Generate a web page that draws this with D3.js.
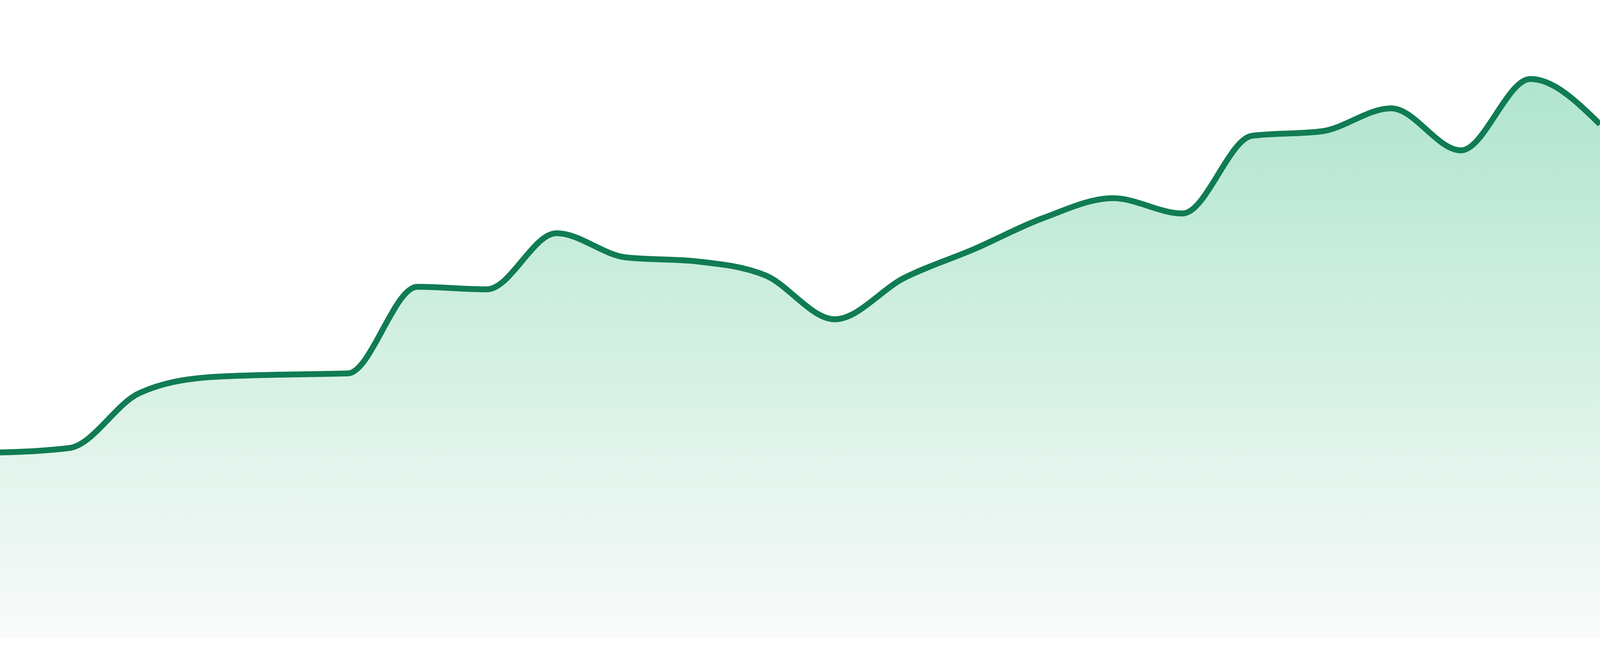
<!DOCTYPE html>
<html>
<head>
<meta charset="utf-8">
<script src="https://cdn.jsdelivr.net/npm/d3@7"></script>
<style>
  html, body { margin: 0; padding: 0; background: #ffffff; width: 100%; height: 100%; overflow: hidden; }
  svg { display: block; }
</style>
</head>
<body>
<svg id="canvas"></svg>
<script>
// values, one per step, evenly spaced
let values = [29.0, 29.7, 38.3, 40.8, 41.2, 41.4, 55.0, 54.6, 63.4, 59.6, 59.0, 56.8,
              49.9, 56.4, 60.9, 65.8, 68.9, 66.5, 78.7, 79.4, 83.0, 76.4, 87.6, 80.5]
let yDomain = [0, 100]

// fill the window, whatever size it turns out to be
let width = window.innerWidth || 4800
let height = window.innerHeight || 1680
let baseline = height * 1632 / 1680

let canvas = d3.select('#canvas')
    .attr('width', width)
    .attr('height', height)

let xScale = d3.scaleLinear()
    .domain([0, values.length - 1])
    .range([0, width])

let yScale = d3.scaleLinear()
    .domain(yDomain)
    .range([baseline, 0])

let defs = canvas.append('defs')
let grad = defs.append('linearGradient')
    .attr('id', 'fillGrad')
    .attr('gradientUnits', 'userSpaceOnUse')
    .attr('x1', 0).attr('x2', 0)
    .attr('y1', yScale(d3.max(values)))
    .attr('y2', baseline)
grad.append('stop').attr('offset', '0%').attr('stop-color', '#b0e5ce')
grad.append('stop').attr('offset', '100%').attr('stop-color', '#f9fbfa')

let area = d3.area()
    .x((d, i) => xScale(i))
    .y0(baseline)
    .y1((d) => yScale(d))
    .curve(d3.curveMonotoneX)

let line = d3.line()
    .x((d, i) => xScale(i))
    .y((d) => yScale(d))
    .curve(d3.curveMonotoneX)

canvas.append('path')
    .datum(values)
    .attr('d', area)
    .attr('fill', 'url(#fillGrad)')

canvas.append('path')
    .datum(values)
    .attr('d', line)
    .attr('fill', 'none')
    .attr('stroke', '#107c54')
    .attr('stroke-width', 15)
    .attr('stroke-linejoin', 'round')
</script>
</body>
</html>
